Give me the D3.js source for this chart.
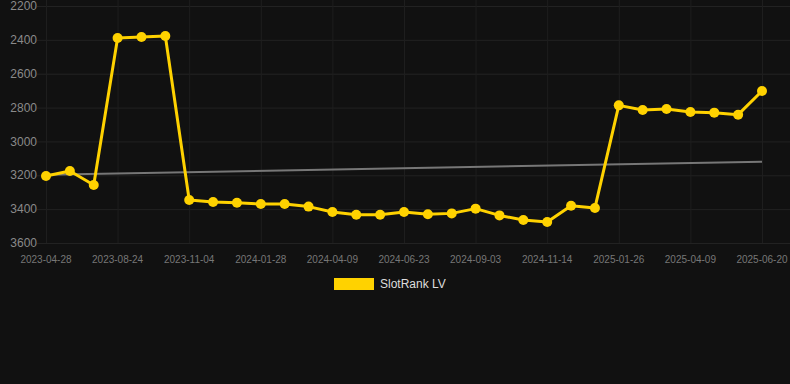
<!DOCTYPE html>
<html>
<head>
<meta charset="utf-8">
<script src="https://cdn.jsdelivr.net/npm/d3@7"></script>
<style>
  html, body { margin: 0; padding: 0; background: #111111; }
  svg { display: block; font-family: Arial, "Liberation Sans", sans-serif; }
</style>
</head>
<body>
<div id="chart"></div>
<script>
// 31 snapshots, only every third one is labelled on the axis
const dates = [
  '2023-04-28', '2023-06-05', '2023-07-15', '2023-08-24', '2023-09-18', '2023-10-11',
  '2023-11-04', '2023-11-30', '2023-12-26', '2024-01-28', '2024-02-20', '2024-03-15',
  '2024-04-09', '2024-05-04', '2024-05-29', '2024-06-23', '2024-07-18', '2024-08-10',
  '2024-09-03', '2024-09-27', '2024-10-21', '2024-11-14', '2024-12-08', '2025-01-01',
  '2025-01-26', '2025-02-19', '2025-03-15', '2025-04-09', '2025-05-03', '2025-05-27',
  '2025-06-20'
];
const rank = [
  3204, 3175, 3257, 2389, 2383, 2377,
  3346, 3358, 3362, 3370, 3370, 3385,
  3417, 3433, 3433, 3417, 3430, 3425,
  3397, 3437, 3464, 3476, 3380, 3393,
  2787, 2814, 2808, 2826, 2830, 2842,
  2702
];
const trend = [3197, 3120]; // grey trend line, first and last point
const yTicks = [2200, 2400, 2600, 2800, 3000, 3200, 3400, 3600];
const seriesName = 'SlotRank LV';

const W = 790, H = 384;
const plotLeft = 37, plotTop = 6, plotBottom = 243;
const yellow = '#ffd200';

const svg = d3.select('#chart').append('svg')
  .attr('width', W)
  .attr('height', H);

const x = d3.scalePoint().domain(dates).range([46, 762]);
const y = d3.scaleLinear().domain([2200, 3600]).range([plotTop, plotBottom]);

/* grid */
const tickDates = dates.filter((d, i) => i % 3 === 0);
svg.append('g')
  .selectAll('line')
  .data(yTicks)
  .enter().append('line')
  .attr('x1', plotLeft).attr('x2', W)
  .attr('y1', d => y(d) + 0.5).attr('y2', d => y(d) + 0.5)
  .style('stroke', '#222222');
svg.append('g')
  .selectAll('line')
  .data(tickDates)
  .enter().append('line')
  .attr('x1', d => x(d) + 0.5).attr('x2', d => x(d) + 0.5)
  .attr('y1', 0).attr('y2', plotBottom)
  .style('stroke', '#1e1e1e');

/* axis labels */
svg.append('g')
  .selectAll('text')
  .data(yTicks)
  .enter().append('text')
  .attr('x', plotLeft)
  .attr('y', d => y(d))
  .attr('dy', '0.35em')
  .style('text-anchor', 'end')
  .style('font-size', '12px')
  .style('fill', '#8a8a8a')
  .text(d => d);
svg.append('g')
  .selectAll('text')
  .data(tickDates)
  .enter().append('text')
  .attr('x', d => x(d))
  .attr('y', 259)
  .attr('dy', '0.35em')
  .style('text-anchor', 'middle')
  .style('font-size', '10px')
  .style('fill', '#777777')
  .text(d => d);

/* trend */
svg.append('line')
  .attr('x1', x(dates[0])).attr('x2', x(dates[dates.length - 1]))
  .attr('y1', y(trend[0])).attr('y2', y(trend[1]))
  .style('stroke', '#777777')
  .style('stroke-width', 2);

/* series */
const line = d3.line()
  .x((d, i) => x(dates[i]))
  .y(d => y(d));
svg.append('path')
  .datum(rank)
  .attr('d', line)
  .style('fill', 'none')
  .style('stroke', yellow)
  .style('stroke-width', 3)
  .style('stroke-linejoin', 'round');
svg.append('g')
  .selectAll('circle')
  .data(rank)
  .enter().append('circle')
  .attr('cx', (d, i) => x(dates[i]))
  .attr('cy', d => y(d))
  .attr('r', 5)
  .style('fill', yellow);

/* legend */
const legend = svg.append('g').attr('transform', 'translate(334, 278)');
legend.append('rect')
  .attr('width', 40).attr('height', 12)
  .style('fill', yellow);
legend.append('text')
  .attr('x', 46).attr('y', 6)
  .attr('dy', '0.35em')
  .style('font-size', '12px')
  .style('fill', '#dddddd')
  .text(seriesName);
</script>
</body>
</html>
